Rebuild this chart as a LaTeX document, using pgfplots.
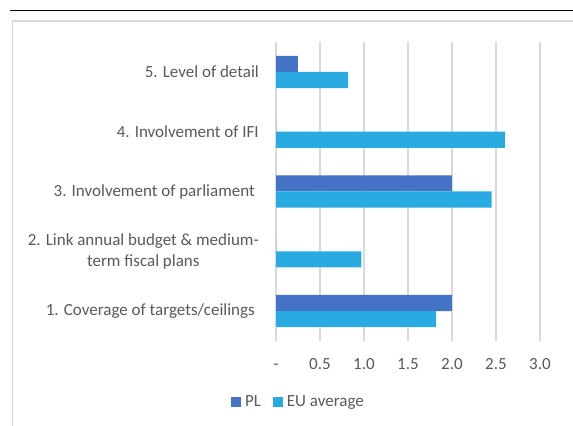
\documentclass[border=0pt]{standalone}
\usepackage{fontspec}
\setmainfont{Carlito}
\usepackage{pgfplots}
\pgfplotsset{compat=1.18}
\definecolor{txt}{HTML}{595959}
\definecolor{gridc}{HTML}{D9D9D9}
\definecolor{pl}{HTML}{4472C4}
\definecolor{eu}{HTML}{29ABE2}
\begin{document}
\fontsize{17bp}{21bp}\selectfont
\begin{tikzpicture}
\path[use as bounding box] (0bp,0bp) rectangle (573bp,426bp);
\draw[gridc, line width=1.5bp] (12.5bp,-2bp) -- (12.5bp,405bp) -- (575bp,405bp);
\draw[black, line width=1bp] (10bp,415bp) -- (575bp,415bp);
\begin{axis}[
  at={(276bp,85bp)}, anchor=south west,
  scale only axis, width=264bp, height=299bp,
  xmin=0, xmax=3, ymin=-0.5, ymax=4.5,
  xbar, bar width=0.27,
  xtick={0,0.5,1,1.5,2,2.5,3},
  xticklabels={-,0.5,1.0,1.5,2.0,2.5,3.0},
  ytick={0,1,2,3,4},
  yticklabels={{1. Coverage of targets/ceilings\hspace*{4bp}},{2. Link annual budget \& medium-\\term fiscal plans},{3. Involvement of parliament\hspace*{4bp}},{4. Involvement of IFI},{5. Level of detail}},
  major tick length=0pt,
  axis line style={draw=none},
  xmajorgrids, major grid style={gridc, line width=1.3bp},
  tick label style={text=txt, font=\fontsize{17bp}{21bp}\selectfont},
  xticklabel style={anchor=base, inner sep=0pt, yshift=-28bp},
  yticklabel style={anchor=east, inner sep=0pt, xshift=-17bp, align=center},
  /pgf/number format/assume math mode=true,
  legend style={at={(rel axis cs:0.085,-0.204)}, anchor=center, draw=none, fill=none,
    text=txt, font=\fontsize{17bp}{21bp}\selectfont, inner sep=0pt,
    /tikz/every even column/.append style={column sep=10bp}},
  legend columns=-1,
]
\addplot[fill=pl, draw=none, bar shift=0.135,
  legend image code/.code={\fill[pl] (0bp,-5bp) rectangle (10bp,5bp); \path (12bp,0bp);}]
  coordinates {(2.0,0) (0,1) (2.0,2) (0,3) (0.25,4)};
\addplot[fill=eu, draw=none, bar shift=-0.135,
  legend image code/.code={\fill[eu] (0bp,-5bp) rectangle (10bp,5bp); \path (12bp,0bp);}]
  coordinates {(1.82,0) (0.97,1) (2.45,2) (2.60,3) (0.82,4)};
\legend{PL, EU average}
\end{axis}
\end{tikzpicture}
\end{document}
